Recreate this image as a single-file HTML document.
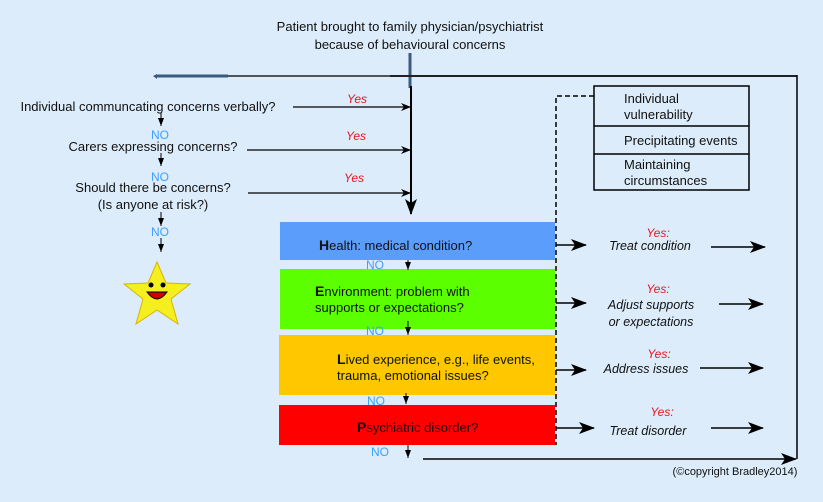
<!DOCTYPE html>
<html><head><style>
body{margin:0;background:#dcecfa;}
svg{display:block;font-family:"Liberation Sans",sans-serif;}
</style></head><body>
<svg width="823" height="502" viewBox="0 0 823 502">
<defs>
<marker id="b" markerWidth="16" markerHeight="12" refX="15" refY="6" orient="auto" markerUnits="userSpaceOnUse"><path d="M0,0 L16,6 L0,12 L4,6Z" fill="#000"/></marker>
<marker id="a" markerWidth="10" markerHeight="8" refX="9" refY="4" orient="auto" markerUnits="userSpaceOnUse"><path d="M0,0 L10,4 L0,8 L3,4Z" fill="#000"/></marker>
<marker id="s" markerWidth="8" markerHeight="6" refX="8" refY="3" orient="auto" markerUnits="userSpaceOnUse"><path d="M0,0 L8,3 L0,6Z" fill="#000"/></marker>
</defs>
<rect width="823" height="502" fill="#dcecfa"/>
<g font-size="13" fill="#111" text-anchor="middle">
<text x="410" y="31">Patient brought to family physician/psychiatrist</text>
<text x="410" y="49">because of behavioural concerns</text>
</g>
<line x1="410" y1="53" x2="410" y2="88" stroke="#3a5a80" stroke-width="3"/>
<line x1="156" y1="76" x2="228" y2="76" stroke="#3a5a80" stroke-width="3"/>
<line x1="228" y1="76" x2="390" y2="76" stroke="#222" stroke-width="1.5"/>
<line x1="390" y1="76" x2="797" y2="76" stroke="#222" stroke-width="2"/>
<path d="M153,76 l4,-2 v5z" fill="#3a5a80"/>
<line x1="797" y1="75" x2="797" y2="459" stroke="#000" stroke-width="1.5"/>
<line x1="411" y1="86" x2="411" y2="214" stroke="#000" stroke-width="2" marker-end="url(#b)"/>
<g font-size="13" fill="#111" text-anchor="middle">
<text x="148" y="111">Individual communcating concerns verbally?</text>
<text x="153" y="151">Carers expressing concerns?</text>
<text x="153" y="192">Should there be concerns?</text>
<text x="153" y="209">(Is anyone at risk?)</text>
</g>
<g font-size="12" fill="#3da0ff" text-anchor="middle">
<text x="160" y="139">NO</text><text x="160" y="181">NO</text><text x="160" y="236">NO</text>
</g>
<g stroke="#000" stroke-width="1" marker-end="url(#s)">
<line x1="161" y1="113" x2="161" y2="126"/><line x1="161" y1="153" x2="161" y2="166"/><line x1="161" y1="212" x2="161" y2="226"/><line x1="161" y1="238" x2="161" y2="252"/>
</g>
<g stroke="#000" stroke-width="1.2" marker-end="url(#a)">
<line x1="293" y1="107" x2="410" y2="107"/><line x1="247" y1="150" x2="410" y2="150"/><line x1="248" y1="193" x2="410" y2="193"/>
</g>
<g font-size="12" fill="#e8141e" font-style="italic" text-anchor="middle">
<text x="357" y="103">Yes</text><text x="356" y="140">Yes</text><text x="354" y="182">Yes</text>
</g>
<polygon points="157,262 166,283 190,284 171,299 178,324 157,310 136,324 143,299 124,284 148,283" fill="#f5ef20" stroke="#d9b300" stroke-width="1"/>
<circle cx="151" cy="285" r="2.5" fill="#000"/><circle cx="163" cy="285" r="2.5" fill="#000"/>
<path d="M147,292 Q157,306 167,292 Z" fill="#c00" stroke="#000" stroke-width="1"/>
<rect x="280" y="222" width="275" height="38" fill="#5b9dfa"/>
<rect x="280" y="269" width="275" height="60" fill="#5bff00"/>
<rect x="279" y="335" width="276" height="60" fill="#fec700"/>
<rect x="279" y="405" width="276" height="40" fill="#fe0000"/>
<g font-size="13" fill="#111">
<text x="319" y="250"><tspan font-weight="bold" font-size="14">H</tspan>ealth: medical condition?</text>
<text x="315" y="296"><tspan font-weight="bold" font-size="14">E</tspan>nvironment: problem with</text>
<text x="315" y="312">supports or expectations?</text>
<text x="337" y="364"><tspan font-weight="bold" font-size="14">L</tspan>ived experience, e.g., life events,</text>
<text x="337" y="380">trauma, emotional issues?</text>
<text x="357" y="432"><tspan font-weight="bold" font-size="14">P</tspan>sychiatric disorder?</text>
</g>
<g font-size="12" fill="#3da0ff" text-anchor="middle">
<text x="375" y="269">NO</text><text x="375" y="335">NO</text><text x="376" y="405">NO</text><text x="380" y="456">NO</text>
</g>
<g stroke="#000" stroke-width="1" marker-end="url(#s)">
<line x1="408" y1="260" x2="408" y2="270"/><line x1="408" y1="321" x2="408" y2="335"/><line x1="406" y1="393" x2="406" y2="404"/><line x1="408" y1="445" x2="408" y2="458"/>
</g>
<line x1="423" y1="459" x2="796" y2="459" stroke="#000" stroke-width="1.5" marker-end="url(#b)"/>
<path d="M594,96 H556 V445" fill="none" stroke="#000" stroke-width="1.5" stroke-dasharray="5,3"/>
<rect x="594" y="86" width="155" height="104" fill="none" stroke="#000" stroke-width="1.5"/>
<line x1="594" y1="126" x2="749" y2="126" stroke="#000" stroke-width="1.5"/>
<line x1="594" y1="154" x2="749" y2="154" stroke="#000" stroke-width="1.5"/>
<g font-size="13" fill="#111">
<text x="624" y="103">Individual</text><text x="624" y="119">vulnerability</text>
<text x="624" y="145">Precipitating events</text>
<text x="624" y="169">Maintaining</text><text x="624" y="185">circumstances</text>
</g>
<g stroke="#000" stroke-width="1.5" marker-end="url(#b)">
<line x1="556" y1="245" x2="586" y2="245"/><line x1="556" y1="303" x2="586" y2="303"/><line x1="556" y1="370" x2="586" y2="370"/><line x1="556" y1="428" x2="594" y2="428"/>
<line x1="711" y1="247" x2="765" y2="247"/><line x1="719" y1="304" x2="763" y2="304"/><line x1="700" y1="368" x2="763" y2="368"/><line x1="711" y1="428" x2="763" y2="428"/>
</g>
<g font-size="12" fill="#e8141e" font-style="italic" text-anchor="middle">
<text x="658" y="237">Yes:</text><text x="658" y="293">Yes:</text><text x="659" y="358">Yes:</text><text x="662" y="416">Yes:</text>
</g>
<g font-size="12.5" fill="#111" font-style="italic" text-anchor="middle">
<text x="650" y="250">Treat condition</text>
<text x="651" y="309">Adjust supports</text><text x="651" y="326">or expectations</text>
<text x="646" y="373">Address issues</text>
<text x="648" y="435">Treat disorder</text>
</g>
<text x="735" y="475" font-size="11" fill="#111" text-anchor="middle">(©copyright Bradley2014)</text>
</svg>
</body></html>
